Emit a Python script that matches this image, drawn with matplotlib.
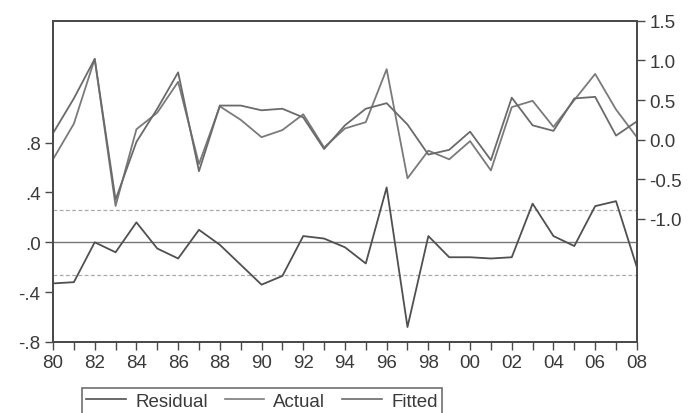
import matplotlib
matplotlib.use("Agg")
import matplotlib.pyplot as plt
from matplotlib.lines import Line2D

plt.rcParams['font.family'] = ['Liberation Sans', 'DejaVu Sans']

years = list(range(1980, 2009))
residual = [-0.33, -0.32, 0.00, -0.08, 0.16, -0.05, -0.13, 0.10, -0.02, -0.18,
            -0.34, -0.27, 0.05, 0.03, -0.04, -0.17, 0.44, -0.68, 0.05, -0.12,
            -0.12, -0.13, -0.12, 0.31, 0.05, -0.03, 0.29, 0.33, -0.20]
actual = [-0.25, 0.20, 1.02, -0.84, 0.13, 0.34, 0.73, -0.31, 0.42, 0.25,
          0.03, 0.12, 0.32, -0.10, 0.14, 0.22, 0.89, -0.49, -0.14, -0.25,
          -0.02, -0.39, 0.41, 0.49, 0.16, 0.50, 0.83, 0.38, 0.03]
fitted = [0.08, 0.52, 1.02, -0.76, -0.03, 0.39, 0.85, -0.40, 0.43, 0.43,
          0.37, 0.39, 0.28, -0.12, 0.18, 0.39, 0.46, 0.19, -0.19, -0.13,
          0.10, -0.26, 0.53, 0.18, 0.11, 0.52, 0.54, 0.05, 0.23]
resid_sd = 0.26
left_ticks = [-0.8, -0.4, 0.0, 0.4, 0.8]
left_labels = ['-.8', '-.4', '.0', '.4', '.8']
right_ticks = [-1.0, -0.5, 0.0, 0.5, 1.0, 1.5]
right_labels = ['-1.0', '-0.5', '0.0', '0.5', '1.0', '1.5']

fig = plt.figure(figsize=(6.93, 4.14), dpi=100)
ax = fig.add_axes([0.0765, 0.1715, 0.8425, 0.7755])
ax2 = ax.twinx()

c_res = '#505050'
c_act = '#7a7a7a'
c_fit = '#6a6a6a'
c_spine = '#4a4a4a'
c_text = '#3a3a3a'

ax.axhline(0, color='#777777', lw=1.0)
ax.axhline(resid_sd, color='#aaaaaa', lw=0.9, ls=(0, (3, 2)))
ax.axhline(-resid_sd, color='#aaaaaa', lw=0.9, ls=(0, (3, 2)))
ax.plot(years, residual, color=c_res, lw=1.3)
ax2.plot(years, actual, color=c_act, lw=1.3)
ax2.plot(years, fitted, color=c_fit, lw=1.3)

ax.set_xlim(1980, 2008)
ax.set_ylim(-0.8, 1.776)
ax2.set_ylim(-2.56, 1.5)

ax.set_yticks(left_ticks)
ax.set_yticklabels(left_labels)
ax2.set_yticks(right_ticks)
ax2.set_yticklabels(right_labels)
ax.set_xticks(years, minor=True)
ax.set_xticks(years[::2])
ax.set_xticklabels([f"{y % 100:02d}" for y in years[::2]])

for a in (ax, ax2):
    for s in a.spines.values():
        s.set_color(c_spine)
        s.set_linewidth(1.3)
    a.tick_params(axis='both', which='both', colors=c_spine, labelcolor=c_text,
                  labelsize=13.5, length=6, width=1.0, direction='out', pad=3)
ax.tick_params(axis='x', which='minor', length=6)

handles = [Line2D([], [], color=c_res, lw=1.2),
           Line2D([], [], color=c_act, lw=1.2),
           Line2D([], [], color=c_fit, lw=1.2)]
leg = fig.legend(handles, ['Residual', 'Actual', 'Fitted'], ncol=3,
                 loc='upper left', bbox_to_anchor=(0.118, 0.0604),
                 borderaxespad=0.0,
                 fontsize=13.5, frameon=True, fancybox=False, handlelength=2.1,
                 columnspacing=0.9, handletextpad=0.5, borderpad=0.25)
leg.get_frame().set_edgecolor(c_spine)
leg.get_frame().set_linewidth(1.2)
for t in leg.get_texts():
    t.set_color(c_text)

fig.savefig('out.png', dpi=100)
